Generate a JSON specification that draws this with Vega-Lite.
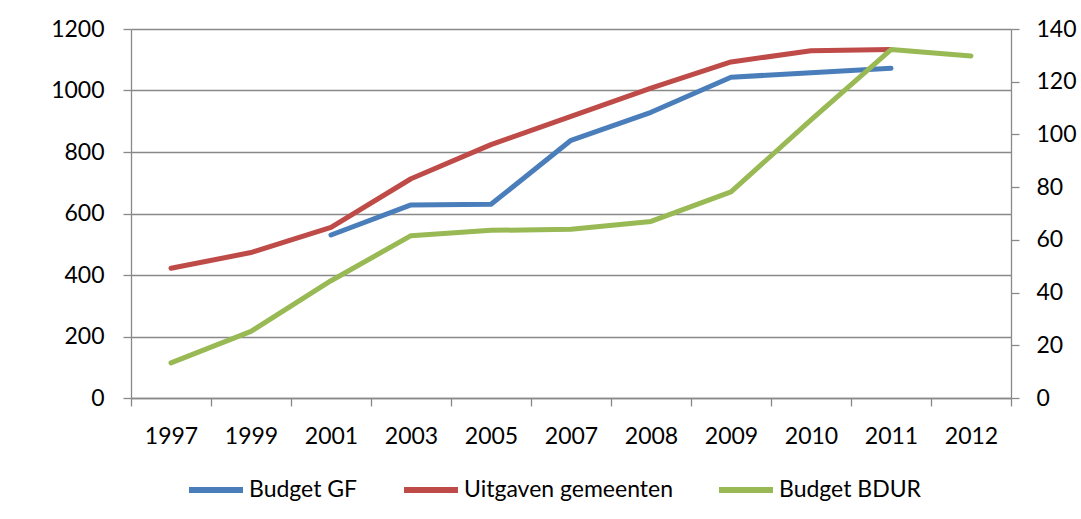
{
  "$schema": "https://vega.github.io/schema/vega-lite/v6.json",
  "width": 880,
  "height": 369,
  "autosize": {"type": "none"},
  "padding": {"left": 131, "top": 29, "right": 70, "bottom": 121},
  "background": "white",
  "config": {
    "font": "Lato",
    "view": {"stroke": null},
    "axis": {
      "labelFont": "Lato",
      "labelFontSize": 23,
      "labelColor": "#000000",
      "domainColor": "#898989",
      "tickColor": "#898989",
      "gridColor": "#898989",
      "domainWidth": 1.3,
      "tickWidth": 1.3,
      "gridWidth": 1.3,
      "tickSize": 8,
      "title": null
    },
    "legend": {
      "orient": "none",
      "legendX": 55,
      "legendY": 431,
      "direction": "horizontal",
      "symbolType": "stroke",
      "symbolSize": 2916,
      "symbolStrokeWidth": 6,
      "labelFont": "Lato",
      "labelFontSize": 23,
      "labelColor": "#000000",
      "labelOffset": 3,
      "labelLimit": 400,
      "columnPadding": 34,
      "title": null
    }
  },
  "data": {
    "values": [
      {"year": "2001", "series": "Budget GF", "value": 530},
      {"year": "2003", "series": "Budget GF", "value": 628},
      {"year": "2005", "series": "Budget GF", "value": 630},
      {"year": "2007", "series": "Budget GF", "value": 838},
      {"year": "2008", "series": "Budget GF", "value": 929},
      {"year": "2009", "series": "Budget GF", "value": 1043},
      {"year": "2010", "series": "Budget GF", "value": 1058},
      {"year": "2011", "series": "Budget GF", "value": 1072},
      {"year": "1997", "series": "Uitgaven gemeenten", "value": 422},
      {"year": "1999", "series": "Uitgaven gemeenten", "value": 473},
      {"year": "2001", "series": "Uitgaven gemeenten", "value": 555},
      {"year": "2003", "series": "Uitgaven gemeenten", "value": 713},
      {"year": "2005", "series": "Uitgaven gemeenten", "value": 824},
      {"year": "2007", "series": "Uitgaven gemeenten", "value": 916},
      {"year": "2008", "series": "Uitgaven gemeenten", "value": 1008},
      {"year": "2009", "series": "Uitgaven gemeenten", "value": 1093},
      {"year": "2010", "series": "Uitgaven gemeenten", "value": 1129},
      {"year": "2011", "series": "Uitgaven gemeenten", "value": 1133},
      {"year": "1997", "series": "Budget BDUR", "value": 13.3},
      {"year": "1999", "series": "Budget BDUR", "value": 25.3},
      {"year": "2001", "series": "Budget BDUR", "value": 44.5},
      {"year": "2003", "series": "Budget BDUR", "value": 61.6},
      {"year": "2005", "series": "Budget BDUR", "value": 63.6},
      {"year": "2007", "series": "Budget BDUR", "value": 64},
      {"year": "2008", "series": "Budget BDUR", "value": 67},
      {"year": "2009", "series": "Budget BDUR", "value": 78.2},
      {"year": "2010", "series": "Budget BDUR", "value": 105.5},
      {"year": "2011", "series": "Budget BDUR", "value": 132.2},
      {"year": "2012", "series": "Budget BDUR", "value": 129.8}
    ]
  },
  "encoding": {
    "x": {
      "field": "year",
      "type": "nominal",
      "sort": ["1997", "1999", "2001", "2003", "2005", "2007", "2008", "2009", "2010", "2011", "2012"],
      "scale": {"type": "band", "paddingInner": 0, "paddingOuter": 0, "domain": ["1997", "1999", "2001", "2003", "2005", "2007", "2008", "2009", "2010", "2011", "2012"]},
      "bandPosition": 0.5,
      "axis": {"labelAngle": 0, "tickBand": "extent", "grid": false, "labelPadding": 19}
    },
    "color": {
      "field": "series",
      "type": "nominal",
      "scale": {
        "domain": ["Budget GF", "Uitgaven gemeenten", "Budget BDUR"],
        "range": ["#4A7EBB", "#BE4B48", "#98B954"]
      }
    }
  },
  "layer": [
    {
      "transform": [{"filter": "datum.series !== 'Budget BDUR'"}],
      "mark": {"type": "line", "strokeWidth": 5, "strokeCap": "round", "strokeJoin": "round"},
      "encoding": {
        "y": {
          "field": "value",
          "type": "quantitative",
          "scale": {"domain": [0, 1200], "nice": false},
          "axis": {"orient": "left", "format": "d", "values": [0, 200, 400, 600, 800, 1000, 1200], "grid": true, "labelPadding": 19}
        }
      }
    },
    {
      "transform": [{"filter": "datum.series === 'Budget BDUR'"}],
      "mark": {"type": "line", "strokeWidth": 5, "strokeCap": "round", "strokeJoin": "round"},
      "encoding": {
        "y": {
          "field": "value",
          "type": "quantitative",
          "scale": {"domain": [0, 140], "nice": false},
          "axis": {"orient": "right", "format": "d", "values": [0, 20, 40, 60, 80, 100, 120, 140], "grid": false, "labelPadding": 17}
        }
      }
    }
  ],
  "resolve": {"scale": {"y": "independent"}}
}
